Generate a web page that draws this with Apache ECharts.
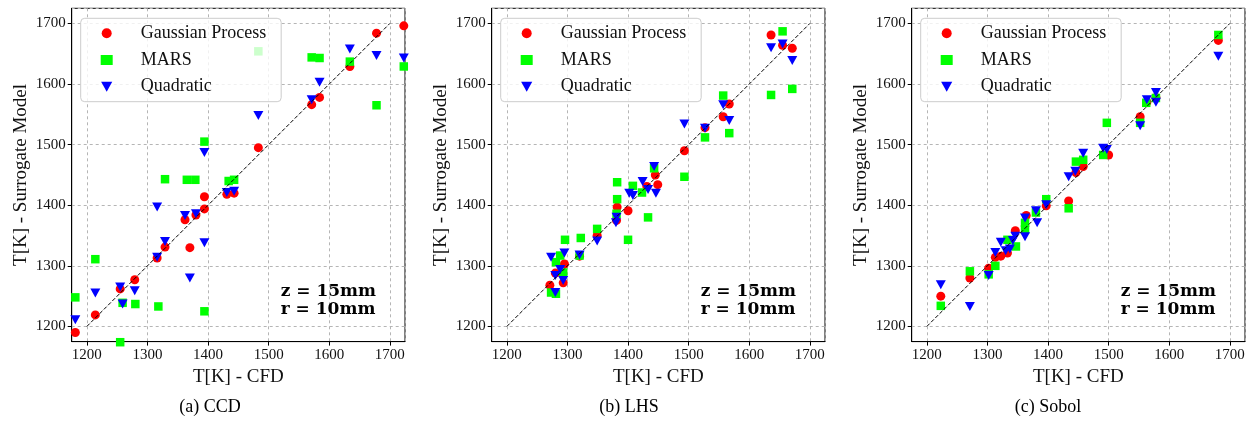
<!DOCTYPE html>
<html>
<head>
<meta charset="utf-8">
<script src="https://cdn.jsdelivr.net/npm/echarts@6/dist/echarts.min.js"></script>
<style>
html, body { margin: 0; padding: 0; background: #fff; }
#main { width: 1252px; height: 434px; }
</style>
</head>
<body>
<div id="main"></div>
<script>
var seriesNames = ['Gaussian Process', 'MARS', 'Quadratic'];
var panelTitles = ['(a) CCD', '(b) LHS', '(c) Sobol'];
var annotationLines = ['z = 15mm', 'r = 10mm'];
var axisName = ['T[K] - CFD', 'T[K] - Surrogate Model'];
var axisRange = [1175, 1725];
var diagonal = [1200, 1700];

// [T CFD, T surrogate]
var ccdGP = [[1181,1190],[1214,1219],[1255,1262],[1279,1277],[1316,1313],[1329,1331],[1362,1376],[1370,1330],[1380,1384],[1394,1394],[1394,1414],[1431,1418],[1443,1420],[1483,1495],[1571,1566],[1584,1578],[1634,1629],[1678,1684],[1723,1696]];
var ccdMARS = [[1181,1248],[1214,1311],[1255,1174],[1259,1239],[1280,1237],[1318,1233],[1329,1443],[1365,1442],[1379,1442],[1394,1505],[1394,1225],[1434,1440],[1443,1442],[1483,1654],[1571,1644],[1584,1643],[1634,1637],[1678,1565],[1723,1629]];
var ccdQuad = [[1181,1211],[1214,1255],[1255,1265],[1259,1237],[1279,1259],[1316,1314],[1316,1397],[1329,1340],[1362,1383],[1370,1280],[1380,1386],[1394,1487],[1394,1338],[1431,1421],[1443,1423],[1483,1548],[1571,1574],[1584,1603],[1634,1658],[1678,1647],[1723,1643]];

var lhsGP = [[1271,1268],[1280,1288],[1293,1272],[1295,1303],[1320,1316],[1349,1350],[1381,1375],[1382,1397],[1400,1391],[1431,1431],[1445,1450],[1449,1434],[1493,1490],[1527,1528],[1557,1546],[1567,1567],[1636,1681],[1655,1664],[1671,1659]];
var lhsMARS = [[1273,1256],[1281,1254],[1281,1306],[1288,1317],[1293,1289],[1296,1343],[1322,1346],[1320,1317],[1349,1361],[1381,1386],[1382,1410],[1382,1438],[1400,1343],[1408,1432],[1423,1421],[1433,1380],[1443,1461],[1493,1447],[1527,1512],[1557,1581],[1567,1519],[1636,1582],[1655,1687],[1671,1592]];
var lhsQuad = [[1273,1314],[1280,1256],[1280,1284],[1288,1294],[1293,1276],[1295,1321],[1320,1318],[1349,1341],[1380,1371],[1381,1380],[1402,1420],[1408,1416],[1424,1439],[1433,1426],[1443,1464],[1446,1420],[1493,1534],[1527,1527],[1557,1566],[1567,1540],[1636,1660],[1655,1666],[1671,1639]];

var sobolGP = [[1223,1250],[1271,1280],[1302,1296],[1313,1314],[1322,1316],[1333,1321],[1346,1358],[1364,1383],[1397,1399],[1434,1407],[1446,1454],[1458,1464],[1500,1483],[1552,1546],[1563,1570],[1578,1578],[1681,1672]];
var sobolMARS = [[1223,1234],[1271,1291],[1302,1286],[1313,1300],[1333,1343],[1347,1332],[1362,1371],[1362,1360],[1380,1388],[1397,1410],[1434,1395],[1446,1472],[1458,1475],[1491,1483],[1497,1536],[1552,1536],[1562,1569],[1578,1577],[1681,1681]];
var sobolQuad = [[1223,1269],[1271,1233],[1302,1284],[1313,1322],[1322,1339],[1330,1325],[1337,1328],[1342,1342],[1346,1349],[1362,1379],[1362,1348],[1380,1391],[1382,1371],[1397,1401],[1434,1447],[1445,1456],[1458,1486],[1491,1494],[1497,1492],[1552,1531],[1563,1574],[1578,1586],[1578,1570],[1681,1646]];

var FONT = '"Liberation Serif", "DejaVu Serif", serif';
var BOLD_FONT = '"DejaVu Serif", "Liberation Serif", serif';
var DOWN_TRIANGLE = 'path://M0,0 L10,0 L5,9 Z';

function surrogateCharts(){
    var chart = echarts.init(document.getElementById('main'));
    var panels = [
        [ccdGP, ccdMARS, ccdQuad],
        [lhsGP, lhsMARS, lhsQuad],
        [sobolGP, sobolMARS, sobolQuad]
    ];
    var colors = ['#ff0000', '#00ff00', '#0000ff'];
    var symbols = ['circle', 'rect', DOWN_TRIANGLE];
    var sizes = [9, 8.5, [10, 9]];
    var legendIcons = ['circle', 'rect', DOWN_TRIANGLE];

    var grids = [], xAxes = [], yAxes = [], series = [], legends = [], titles = [];

    function axis(i, name, isY){
        return {
            gridIndex: i,
            type: 'value',
            min: axisRange[0],
            max: axisRange[1],
            splitNumber: 5,
            name: name,
            nameLocation: 'middle',
            nameGap: isY ? 41 : 18,
            nameTextStyle: { fontFamily: FONT, fontSize: 19, color: '#111' },
            axisLine: { show: true, lineStyle: { color: '#000', width: 1 } },
            axisTick: { show: true, length: 4, lineStyle: { color: '#000' } },
            axisLabel: {
                fontFamily: FONT, fontSize: 15, color: '#111', margin: 6,
                showMinLabel: false, showMaxLabel: false,
                formatter: function (v) { return v % 100 === 0 ? String(v) : ''; }
            },
            splitLine: { show: true, lineStyle: { color: '#b5b5b5', type: [3, 3], width: 1 } }
        };
    }

    panels.forEach(function (p, i) {
        var left = 71.7 + i * 420;
        grids.push({
            left: left, top: 8.3, width: 333.3, height: 333.3,
            show: true, borderColor: '#000', borderWidth: 1, backgroundColor: 'transparent'
        });
        xAxes.push(axis(i, axisName[0], false));
        yAxes.push(axis(i, axisName[1], true));

        p.forEach(function (data, k) {
            series.push({
                name: seriesNames[k],
                type: 'scatter',
                xAxisIndex: i,
                yAxisIndex: i,
                data: data,
                symbol: symbols[k],
                symbolSize: sizes[k],
                itemStyle: { color: colors[k], opacity: 1 },
                clip: false,
                z: 3
            });
        });
        series.push({
            name: 'y = x',
            type: 'line',
            xAxisIndex: i,
            yAxisIndex: i,
            data: [[diagonal[0], diagonal[0]], [diagonal[1], diagonal[1]]],
            showSymbol: false,
            silent: true,
            lineStyle: { color: '#000', width: 1, type: [4, 2] },
            z: 4
        });

        legends.push({
            orient: 'vertical',
            left: 80.7 + i * 420,
            top: 18.3,
            data: seriesNames.map(function (n, k) { return { name: n, icon: legendIcons[k] }; }),
            selectedMode: false,
            itemWidth: 12,
            itemHeight: 10,
            itemGap: 8.7,
            padding: [6, 15, 6, 20],
            backgroundColor: 'rgba(255,255,255,0.8)',
            borderColor: '#cccccc',
            borderWidth: 1,
            borderRadius: 4,
            textStyle: { fontFamily: FONT, fontSize: 18, color: '#111', padding: [0, 0, 0, 23] }
        });

        titles.push({
            text: panelTitles[i],
            left: 210 + i * 419,
            top: 398,
            textAlign: 'center',
            padding: 0,
            textStyle: { fontFamily: FONT, fontSize: 18, fontWeight: 'normal', color: '#000' }
        });
        annotationLines.forEach(function (line, j) {
            titles.push({
                text: line,
                left: 280.7 + i * 420,
                top: 283 + j * 17.6,
                padding: 0,
                textStyle: { fontFamily: BOLD_FONT, fontSize: 17, fontWeight: 'bold', color: '#000', lineHeight: 17 }
            });
        });
    });

    var option = {
        animation: false,
        backgroundColor: '#fff',
        title: titles,
        legend: legends,
        grid: grids,
        xAxis: xAxes,
        yAxis: yAxes,
        series: series
    };
    chart.setOption(option);
}

surrogateCharts();
</script>
</body>
</html>
